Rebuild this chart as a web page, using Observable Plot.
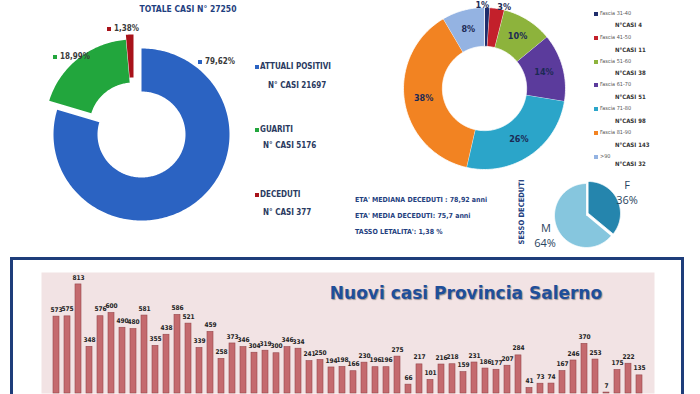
<!DOCTYPE html>
<html><head><meta charset="utf-8">
<script src="https://cdn.jsdelivr.net/npm/d3@7"></script>
<script src="https://cdn.jsdelivr.net/npm/@observablehq/plot@0.6"></script>
<style>
html,body{margin:0;padding:0;background:#fff;}
#root{position:relative;width:700px;height:394px;overflow:hidden;background:#fff;
  font-family:"Liberation Sans Narrow","DejaVu Sans Condensed","Roboto Condensed",Roboto,sans-serif;}
.abs{position:absolute;white-space:nowrap;line-height:1;}
svg.p{position:absolute;overflow:visible;}
</style></head><body><div id="root"></div>
<script>
// ---------------- DATA ----------------
const totalTitle = "TOTALE CASI N° 27250";
const statusLabels = ["ATTUALI POSITIVI", "GUARITI", "DECEDUTI"];
const statusCases = [21697, 5176, 377];
const statusPct = ["79,62%", "18,99%", "1,38%"];

const ageBands = ["Fascia 31-40", "Fascia 41-50", "Fascia 51-60", "Fascia 61-70", "Fascia 71-80", "Fascia 81-90", ">90"];
const ageCases = [4, 11, 38, 51, 98, 143, 32];

const sexLabels = ["F", "M"];
const sexPct = [36, 64];

const statsLines = ["ETA' MEDIANA DECEDUTI :  78,92 anni", "ETA' MEDIA DECEDUTI:  75,7 anni", "TASSO LETALITA':  1,38 %"];
const sexTitle = "SESSO DECEDUTI";

const barTitle = "Nuovi casi Provincia Salerno";
const newCases = [573, 575, 813, 348, 576, 600, 490, 480, 581, 355,
                  438, 586, 521, 339, 459, 258, 373, 346, 304, 319,
                  300, 346, 334, 241, 250, 194, 198, 166, 230, 196,
                  196, 275, 66, 217, 101, 216, 218, 159, 231, 186,
                  177, 207, 284, 41, 73, 74, 167, 246, 370, 253,
                  7, 175, 222, 135];

// ---------------- STYLE ----------------
const statusColors = ["#2b63c2", "#22a63d", "#a8121a"];
const ageColors = ["#1f2d6b", "#c3202b", "#8db33c", "#5b3b9c", "#2ba5c9", "#f28322", "#94b3e2"];
const sexColors = ["#2585ad", "#86c6de"];
const navy = "#1f3f80";

const root = document.getElementById("root");
function txt(s, x, y, style = {}, center = false) {
  const d = document.createElement("div");
  d.className = "abs";
  d.textContent = s;
  Object.assign(d.style, {left: x + "px", top: y + "px",
    transform: center ? "translate(-50%,-50%)" : "translateY(-50%)"}, style);
  root.appendChild(d);
  return d;
}
function sq(x, y, color, s = 4) {
  const d = document.createElement("div");
  Object.assign(d.style, {position: "absolute", left: x + "px", top: (y - s / 2) + "px", width: s + "px", height: s + "px", background: color});
  root.appendChild(d);
}

// ring polygon points from values (angles clockwise from top)
function ringPolys(values, inner, offsets) {
  const total = d3.sum(values);
  let acc = 0; const pts = [];
  values.forEach((v, i) => {
    const a0 = acc / total * 2 * Math.PI; acc += v; const a1 = acc / total * 2 * Math.PI;
    const n = Math.max(4, Math.ceil((a1 - a0) / 0.02));
    const [ox, oy] = offsets ? offsets[i] : [0, 0];
    for (let k = 0; k <= n; k++) { const a = a0 + (a1 - a0) * k / n; pts.push({i, x: ox + Math.sin(a), y: oy + Math.cos(a)}); }
    for (let k = n; k >= 0; k--) { const a = a0 + (a1 - a0) * k / n; pts.push({i, x: ox + inner * Math.sin(a), y: oy + inner * Math.cos(a)}); }
  });
  return pts;
}
function midAngles(values) {
  const total = d3.sum(values); let acc = 0;
  return values.map(v => { const m = (acc + v / 2) / total * 2 * Math.PI; acc += v; return m; });
}

function donut({values, colors, inner, offsetsPx, cx, cy, rx, ry, size, stroke, strokeWidth, extra = []}) {
  const half = size / 2;
  const kx = half / rx, ky = half / ry;
  const offs = offsetsPx ? offsetsPx.map(([dx, dy]) => [dx / rx, -dy / ry]) : null;
  const pts = ringPolys(values, inner, offs);
  const svg = Plot.plot({
    width: size, height: size, margin: 0,
    x: {domain: [-kx, kx], axis: null}, y: {domain: [-ky, ky], axis: null},
    marks: [
      Plot.line(pts, {x: "x", y: "y", z: "i", fill: d => colors[d.i], stroke: stroke, strokeWidth: strokeWidth, curve: "linear"}),
      ...extra
    ]
  });
  svg.classList.add("p");
  svg.style.left = (cx - half) + "px";
  svg.style.top = (cy - half) + "px";
  svg.style.maxWidth = "none";
  root.appendChild(svg);
}

// ---------------- MAIN DONUT ----------------
txt(totalTitle, 188, 9, {fontSize: "8.5px", fontWeight: "bold", color: navy}, true);
donut({values: statusCases, colors: statusColors, inner: 0.5,
  offsetsPx: [[0, 0], [-8, -9], [-8, -14]],
  cx: 141, cy: 134, rx: 88, ry: 86, size: 250, stroke: "none", strokeWidth: 0});
const pctPos = [[198, 62], [53, 57], [107, 29]];
statusPct.forEach((p, i) => {
  sq(pctPos[i][0], pctPos[i][1], statusColors[i]);
  txt(p, pctPos[i][0] + 7, pctPos[i][1], {fontSize: "8px", fontWeight: "bold", color: "#3a3a3a"});
});
const legY = [[67, 86], [130, 146], [195, 213]];
statusLabels.forEach((s, i) => {
  sq(255, legY[i][0], statusColors[i]);
  txt(s, 260, legY[i][0], {fontSize: "8px", fontWeight: "bold", color: "#2a3a60"});
  txt("N° CASI " + statusCases[i], i === 0 ? 268 : 263, legY[i][1], {fontSize: "8px", fontWeight: "bold", color: "#2a3a60"});
});

// ---------------- AGE DONUT ----------------
const ageTotal = d3.sum(ageCases);
const ageMid = midAngles(ageCases);
const ageInner = 0.52;
const ageLab = ageCases.map((v, i) => {
  const pct = Math.round(v / ageTotal * 100);
  const outside = pct < 5;
  const r = outside ? 1.0 : (1 + ageInner) / 2;
  return {x: r * Math.sin(ageMid[i]), y: r * Math.cos(ageMid[i]), t: pct + "%",
    anchor: outside ? (i === 0 ? "end" : "start") : "middle"};
});
const labFont = "Liberation Sans Narrow, DejaVu Sans Condensed, Roboto, sans-serif";
donut({values: ageCases, colors: ageColors, inner: ageInner, cx: 484, cy: 88, rx: 81, ry: 81, size: 200,
  stroke: "#ffffff", strokeWidth: 0.8,
  extra: [
    Plot.text(ageLab.filter(d => d.anchor === "middle"), {x: "x", y: "y", text: "t", fontSize: 9, fontWeight: "bold", fill: "#1c2a55", fontFamily: labFont}),
    Plot.text(ageLab.filter(d => d.anchor === "end"), {x: "x", y: "y", text: "t", fontSize: 9, fontWeight: "bold", fill: "#1c2a55", fontFamily: labFont, textAnchor: "end", dx: 2, dy: -2}),
    Plot.text(ageLab.filter(d => d.anchor === "start"), {x: "x", y: "y", text: "t", fontSize: 9, fontWeight: "bold", fill: "#1c2a55", fontFamily: labFont, textAnchor: "start", dx: 0, dy: -1})
  ]});
const ageLegY = [[14, 25], [38, 50], [62, 73], [85, 97], [109, 121], [133, 145], [157, 164]];
ageBands.forEach((b, i) => {
  sq(594, ageLegY[i][0], ageColors[i], 3.5);
  txt(b, 600, ageLegY[i][0], {fontSize: "5.5px", color: "#555"});
  txt("N°CASI " + ageCases[i], 615, ageLegY[i][1], {fontSize: "6px", fontWeight: "bold", color: "#333"});
});

// ---------------- STATS + SEX PIE ----------------
const statY = [200, 216, 232];
statsLines.forEach((s, i) => txt(s, 355, statY[i], {fontSize: "7px", fontWeight: "bold", color: navy}));
const st = txt(sexTitle, 522, 212, {fontSize: "7.5px", fontWeight: "bold", color: navy}, true);
st.style.transform = "translate(-50%,-50%) rotate(-90deg)";
donut({values: sexPct, colors: sexColors, inner: 0, offsetsPx: [[2, -2], [0, 0]],
  cx: 586, cy: 215, rx: 32, ry: 32, size: 90, stroke: "#ffffff", strokeWidth: 0.8});
const sexFont = {fontSize: "11px", color: "#2a4560", fontFamily: "Open Sans, sans-serif"};
txt(sexLabels[0], 627, 184, sexFont, true);
txt(sexPct[0] + "%", 627, 199, sexFont, true);
txt(sexLabels[1], 546, 227, sexFont, true);
txt(sexPct[1] + "%", 545, 242, sexFont, true);

// ---------------- BAR PANEL ----------------
const box = document.createElement("div");
Object.assign(box.style, {position: "absolute", left: "10px", top: "257px", width: "668px", height: "150px",
  borderTop: "3px solid #1e3d7a", borderLeft: "3px solid #1e3d7a", borderRight: "3px solid #1e3d7a"});
root.appendChild(box);

const barData = newCases.map((v, i) => ({i, v}));
const bars = Plot.plot({
  width: 700, height: 132, marginLeft: 41, marginRight: 46, marginTop: 10, marginBottom: 1,
  x: {type: "band", domain: d3.range(newCases.length), padding: 0.5, axis: null},
  y: {domain: [0, 902], axis: null},
  marks: [
    Plot.frame({fill: "#f2e3e4", stroke: "none"}),
    Plot.barY(barData, {x: "i", y: "v", fill: "#c46a6e", stroke: "#96464b", strokeWidth: 0.6}),
    Plot.text(barData, {x: "i", y: "v", text: d => String(d.v), dy: -7, fontSize: 6.5, fontWeight: "bold", fill: "#222", fontFamily: labFont})
  ]
});
bars.classList.add("p");
bars.style.left = "0px"; bars.style.top = "262px"; bars.style.maxWidth = "none";
root.appendChild(bars);
txt(barTitle, 466, 293, {fontSize: "17px", fontWeight: "bold", color: "#1f4f9a",
  fontFamily: "DejaVu Sans, Verdana, sans-serif", textShadow: "1px 1px 1px rgba(0,0,0,0.35)"}, true);
</script></body></html>
